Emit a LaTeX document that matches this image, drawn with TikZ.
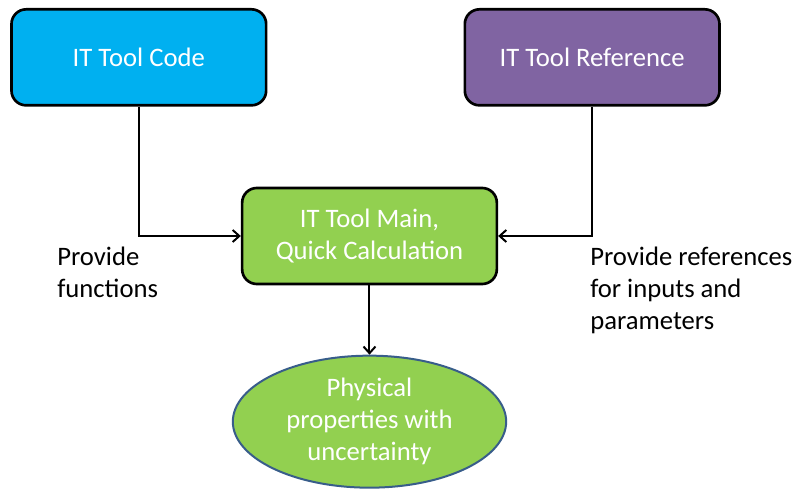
\documentclass[tikz,border=0pt]{standalone}
\usepackage{fontspec}
\setmainfont{Carlito}
\usetikzlibrary{positioning, shapes.geometric, arrows.meta}

\definecolor{codeblue}{HTML}{00B0F0}
\definecolor{refpurple}{HTML}{8064A2}
\definecolor{maingreen}{HTML}{92D050}
\definecolor{ovalline}{HTML}{385D8A}

\begin{document}
\begin{tikzpicture}[
		x=0.75pt, y=0.75pt,
		toolbox/.style={rectangle,rounded corners=11pt,draw=black,line width=2pt,
			minimum width=191pt,minimum height=72pt,text=white,align=center,
			font=\fontsize{20}{24}\selectfont},
		resultoval/.style={ellipse,draw=ovalline,line width=1.5pt,fill=maingreen,
			minimum width=205pt,minimum height=99pt,inner sep=0pt,text=white,
			align=center,font=\fontsize{20}{24}\selectfont},
		note/.style={align=left,inner sep=0pt,font=\fontsize{20}{24}\selectfont},
		link/.style={-{Straight Barb[length=5pt,width=9pt]},line width=1.5pt}
		]
		\useasboundingbox (-369.5,236) rectangle (423.5,-253);

		\node[toolbox, fill=maingreen](main){IT Tool Main,\\Quick Calculation};
		\node[toolbox, fill=codeblue, above = 60pt of main, xshift = -173pt](code){IT Tool Code};
		\node[toolbox, fill=refpurple, above = 60pt of main, xshift = 167pt](ref){IT Tool Reference};
		\node[resultoval, below = 52pt of main](phys){Physical\\properties with\\uncertainty};

		\draw[link] (code.south) |- (main.west);
		\draw[link] (ref.south) |- (main.east);
		\draw[link] (main.south) -- (phys.north);

		\node[note, anchor=north west](fnote) at (-312.5,-11){Provide\\functions};
		\node[note, anchor=north west](rnote) at (220.5,-11){Provide references\\for inputs and\\parameters};
	\end{tikzpicture}
\end{document}
